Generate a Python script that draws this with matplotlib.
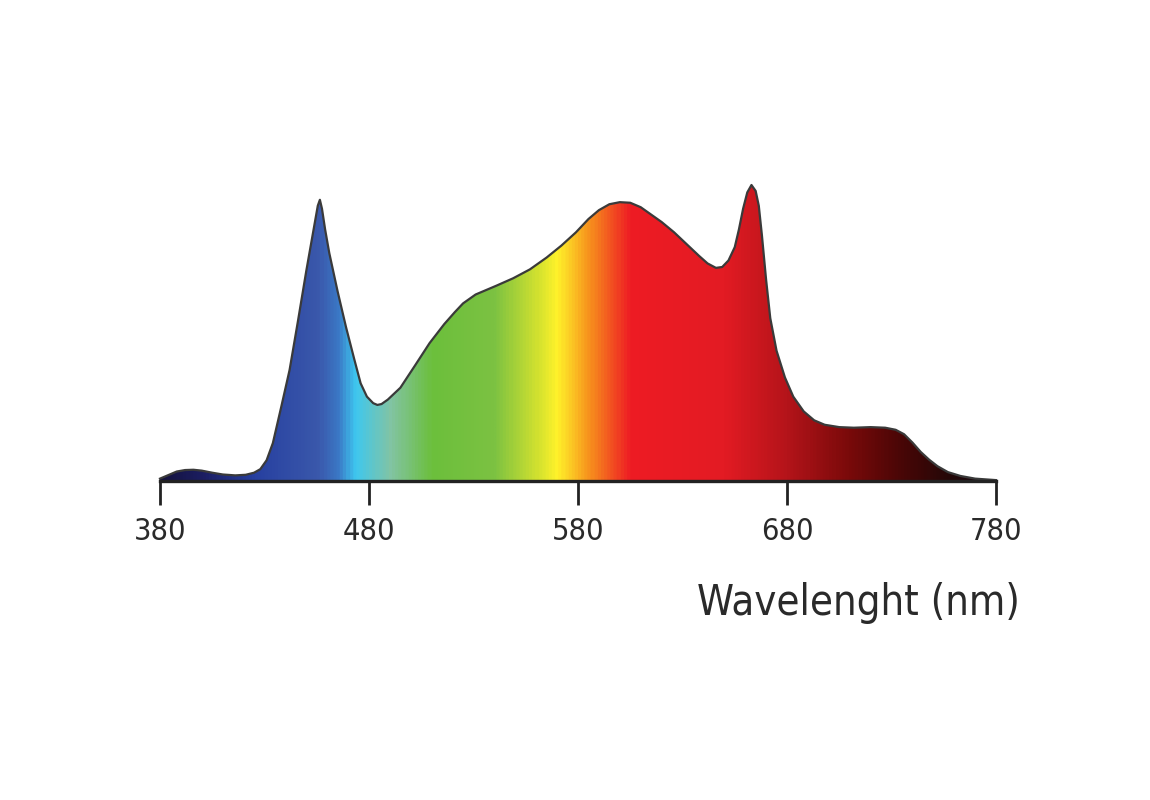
"""LED spectrum chart: gradient-filled spectral curve over 380-780 nm."""

import matplotlib
matplotlib.use("Agg")
import matplotlib.pyplot as plt
import numpy as np
from matplotlib.colors import LinearSegmentedColormap

plt.rcParams["font.family"] = ["DejaVu Sans"]
plt.rcParams["font.stretch"] = "condensed"

# spectrum (relative intensity, red peak = 100)
wavelength = [380, 384, 388, 392, 396, 400, 405, 410, 416, 421, 425, 428,
              431, 434, 438, 442, 446, 450, 452, 454, 455.5, 456.5, 457.5,
              459, 461, 465, 469, 473, 476, 479, 482, 484, 486, 489, 495,
              502, 509, 516, 521, 525, 531, 536, 541, 549, 557, 565, 572,
              579, 585, 590, 595, 600, 605, 610, 615, 620, 626, 632, 638,
              642, 646, 649, 652, 655, 657, 659, 661, 663, 665, 666.5, 668,
              670, 672, 675, 679, 683, 688, 693, 698, 705, 712, 720, 727,
              732, 736, 740, 744, 748, 752, 757, 763, 770, 780]
intensity = [0.8, 2.0, 3.2, 3.7, 3.8, 3.5, 2.8, 2.2, 1.9, 2.1, 2.8, 4.0,
             7.0, 12.8, 25, 37.5, 54, 71, 79, 87, 93, 95, 92,
             85, 77, 64, 52, 41, 33, 28.5, 26.3, 25.7, 26, 27.5, 31.5,
             39, 46.6, 53, 57, 60, 63, 64.5, 66, 68.5, 71.5, 75.5, 79.5,
             84, 88.5, 91.5, 93.5, 94.2, 94, 92.5, 90, 87.5, 84, 80, 76,
             73.5, 72, 72.3, 74.5, 79, 85, 92, 97.5, 100, 98, 93, 83,
             68, 55, 44, 35, 28.5, 23.5, 20.5, 19, 18.2, 18, 18.2, 18,
             17.3, 15.8, 13, 9.8, 7.2, 5, 3, 1.7, 0.8, 0.3]

tick_values = [380, 480, 580, 680, 780]

# colour stops of the spectrum gradient (wavelength, colour)
stop_nm = [380, 400, 425, 455, 465, 473, 490, 510, 540, 560, 570, 585,
           605, 650, 680, 710, 735, 760, 780]
stop_col = ["#14123e", "#1c1e62", "#2740a0", "#3a58ab", "#3b78c6", "#3ec8f0",
            "#82c4a4", "#6cbf3c", "#7cc242", "#cfe030", "#fff22a", "#f7941d",
            "#ee1c24", "#e31b23", "#b5141a", "#7a0a0a", "#4a0606", "#220808",
            "#1a0a14"]

fig = plt.figure(figsize=(11.5, 8), dpi=100)
ax = fig.add_axes([160 / 1150, 319 / 800, 836 / 1150, 296 / 800])

x = np.array(wavelength, dtype=float)
y = np.array(intensity, dtype=float)

pos = [(n - 380) / 400 for n in stop_nm]
cmap = LinearSegmentedColormap.from_list("spectrum", list(zip(pos, stop_col)))
grad = np.linspace(0, 1, 800).reshape(1, -1)
img = ax.imshow(grad, cmap=cmap, aspect="auto", extent=[380, 780, 0, 100],
                origin="lower", interpolation="bilinear", zorder=1)
poly = ax.fill_between(x, y, 0, facecolor="none", edgecolor="none")
img.set_clip_path(poly.get_paths()[0], transform=ax.transData)

ax.plot(x, y, color="#3a3a3a", lw=1.6, zorder=3, clip_on=False,
        solid_joinstyle="round")

ax.set_xlim(380, 780)
ax.set_ylim(0, 100)
for s in ("top", "right", "left"):
    ax.spines[s].set_visible(False)
ax.spines["bottom"].set_linewidth(2.4)
ax.spines["bottom"].set_color("#222222")
ax.spines["bottom"].set_zorder(4)
ax.set_yticks([])
ax.set_xticks(tick_values)
ax.set_xticklabels([str(v) for v in tick_values])
ax.tick_params(axis="x", which="major", direction="out", length=17, width=2,
               color="#222222", pad=9, labelsize=22, labelcolor="#2a2a2a")
ax.set_xticks([tick_values[0], tick_values[-1]], minor=True)
ax.tick_params(axis="x", which="minor", direction="inout", length=31, width=2,
               color="#222222")

ax.text(1.0287, -0.412, "Wavelenght (nm)", transform=ax.transAxes,
        ha="right", va="center", fontsize=30, color="#2a2a2a")

fig.savefig("out.png", dpi=100)
